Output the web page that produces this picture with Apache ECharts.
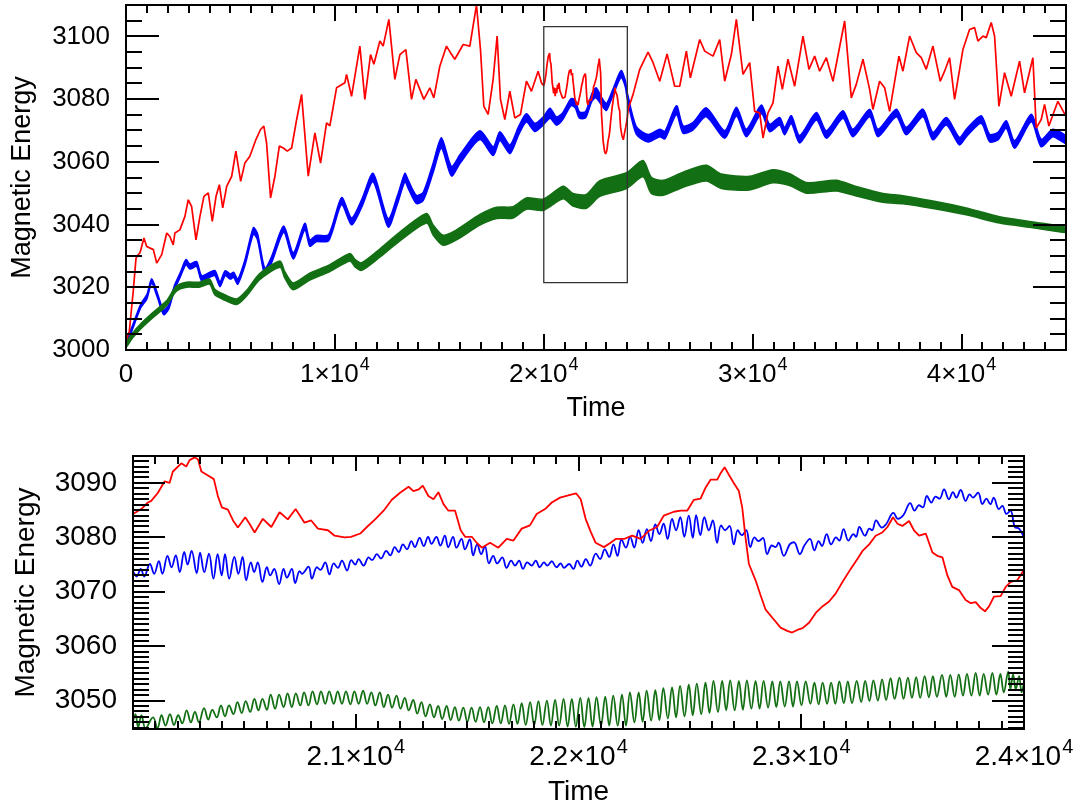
<!DOCTYPE html>
<html>
<head>
<meta charset="utf-8">
<script src="https://cdn.jsdelivr.net/npm/echarts@6/dist/echarts.min.js"></script>
<style>
html, body { margin: 0; padding: 0; background: #fff; }
#chart { width: 1085px; height: 807px; }
</style>
</head>
<body>
<div id="chart"></div>
<script>
// ---------- data ----------
// Red run, full time range (the 2.0e4..2.4e4 window comes from redZoom)
const redEarly = [[0,3003],[160,3006],[350,3019],[480,3029.3],[560,3030.2],[670,3031],[860,3035.7],[990,3033],[1310,3032],[1470,3027.7],[1710,3030.4],[1950,3037.3],[2100,3036.2],[2260,3033.5],[2340,3037.3],[2580,3038.3],[2820,3042.6],[2980,3047.9],[3140,3045.8],[3350,3035.1],[3540,3042.6],[3730,3049],[3940,3050.1],[4130,3041],[4310,3049],[4470,3052.7],[4630,3045.3],[4820,3052.2],[5060,3055.4],[5260,3063.4],[5490,3053.8],[5690,3059.6],[5930,3061.8],[6220,3067.1],[6440,3070.3],[6600,3071.4],[6730,3066],[6920,3048.5],[7130,3055.4],[7340,3065],[7530,3064.4],[7720,3063.4],[7930,3064.4],[8170,3073.5],[8405,3081.5],[8724,3055.4],[9043,3069.2],[9314,3059.6],[9601,3072.4],[9760,3071.5],[10080,3083.6],[10478,3085.2],[10558,3087.9],[10797,3080.9],[11196,3096.9],[11435,3079.9],[11706,3094.2],[11866,3091.1],[12153,3098.5],[12312,3096.9],[12584,3105.4],[12871,3086.3],[13111,3094.2],[13397,3095.8],[13669,3079.9],[13876,3086.3],[14067,3083.1],[14259,3079.9],[14546,3083.6],[14737,3080.4],[15024,3090.5],[15343,3096.9],[15534,3094.8],[15742,3092.7],[16141,3097.4],[16460,3096.9],[16779,3110],[16970,3095.8],[17130,3077.7],[17337,3075.1],[17576,3086.3],[17767,3100.1],[17927,3079.9],[18135,3073.5],[18374,3082.5],[18613,3074],[18884,3075.1],[19171,3085.7],[19410,3082.5],[19729,3088.9],[19900,3085]];
const redLate = [[24047,3077],[24275,3081.5],[24594,3089.5],[24993,3095],[25232,3091.6],[25551,3085.7],[25902,3094.4],[26268,3084.1],[26508,3084.1],[26826,3095.3],[27018,3086.8],[27465,3099],[27704,3095.3],[28103,3093.7],[28422,3099],[28661,3085.7],[28980,3094.2],[29219,3105.4],[29538,3087.9],[29857,3091.6],[30096,3076.1],[30335,3075.6],[30495,3067.6],[30734,3075.6],[30974,3078.8],[31212,3090.5],[31420,3083.1],[31691,3092.7],[32010,3084.1],[32409,3100.1],[32696,3089.5],[32967,3093.7],[33207,3088.9],[33526,3093.2],[33845,3085.7],[34403,3104.9],[34722,3080.4],[34961,3084.7],[35280,3092.7],[35599,3083.1],[35758,3076.7],[36077,3085.7],[36317,3083.6],[36556,3076.1],[37002,3093.7],[37194,3088.9],[37513,3100.1],[37832,3094.8],[38071,3093.2],[38311,3089.5],[38630,3096.9],[38981,3085.7],[39188,3088.9],[39427,3093.2],[39667,3079.9],[40065,3095.8],[40384,3102.2],[40624,3102.8],[40783,3098.5],[41022,3100.1],[41182,3099.6],[41421,3104.4],[41581,3100.1],[41788,3077.7],[42059,3088.4],[42378,3080.9],[42777,3092.1],[43016,3082],[43415,3093.2],[43575,3070.8],[43814,3073.5],[43974,3078.3],[44180,3071.4],[44611,3079.3],[45000,3074.5]];

// Blue and green runs over the full range: [time, middle of the band, half band width]
const blueBand = [[0,3002.5,0.6],[300,3007,0.6],[700,3014,0.6],[1000,3017,0.7],[1230,3022,0.7],[1500,3017.5,0.7],[1800,3012,0.7],[2050,3013.8,0.7],[2300,3019.5,0.7],[2600,3024,0.7],[2870,3028,0.8],[3060,3026.6,0.8],[3380,3027.4,0.8],[3620,3022.9,0.8],[4020,3024,0.8],[4260,3024.5,0.8],[4500,3021,0.8],[4750,3024.5,0.8],[5000,3023.4,0.8],[5150,3024,0.8],[5350,3021.8,0.8],[5700,3028,0.9],[6100,3038,1],[6300,3036,1],[6650,3025,1],[6970,3028.8,1],[7550,3038.5,1],[8010,3030,1],[8560,3039.4,1],[8800,3034.1,1],[9100,3035.5,1],[9700,3035.8,1],[10320,3047.5,1.1],[10800,3041,1.1],[11300,3047,1.2],[11830,3055,1.3],[12550,3040.5,1.3],[13000,3048,1.3],[13350,3055,1.3],[13500,3053,1.3],[13900,3048,1.3],[14230,3049,1.3],[14700,3058,1.5],[15100,3066,1.7],[15580,3057,1.5],[16000,3061,1.4],[16940,3068.5,1.4],[17580,3063.4,1.4],[17900,3068.2,1.4],[18380,3064,1.4],[18800,3070,1.3],[19170,3074,1.3],[19570,3071,1.3],[19970,3073,1.3],[20300,3075.5,1.6],[20600,3073,1.3],[20900,3074.5,1.1],[21300,3079,1.1],[21500,3078.5,1.2],[21700,3075,1],[22000,3075,1],[22300,3080.5,1.2],[22500,3082,1.6],[22800,3079,1.2],[23000,3077.5,1.1],[23300,3082,1],[23700,3088,1.1],[23900,3085,1],[24000,3081,1],[24430,3070,1.2],[25000,3067.5,1.2],[25550,3069.2,1.2],[25800,3068.5,1.2],[26350,3076.5,1.4],[26670,3070.3,1.2],[27150,3071.4,1.2],[27780,3075.8,1.4],[28660,3068.7,1.2],[29220,3076,1.4],[29700,3069.2,1.2],[30420,3076.7,1.4],[30810,3070.8,1.2],[31290,3072.9,1.2],[31530,3069.8,1.2],[31850,3073.5,1.2],[32250,3067.2,1.2],[33050,3074.5,1.2],[33530,3068.7,1.2],[34320,3075.1,1.2],[34800,3069.2,1.2],[35600,3075.6,1.2],[36000,3069.2,1.2],[36880,3075.6,1.2],[37350,3069.8,1.2],[38150,3075.6,1.2],[38630,3068.2,1.2],[39270,3072.9,1.2],[39900,3066.6,1.2],[40230,3069.2,1.2],[40940,3073.5,1.2],[41340,3067.6,1.2],[41740,3068.2,1.2],[42140,3071.9,1.2],[42540,3065.5,1.2],[43340,3074,1.2],[43810,3066,1.2],[44370,3069.2,1.2],[45000,3067,1.2]];
const greenBand = [[0,3001.5,0.7],[300,3004.5,0.8],[700,3007.5,0.8],[1300,3011.2,0.8],[1950,3015,0.8],[2400,3019.5,0.8],[2900,3020.8,0.8],[3500,3020.8,0.8],[4000,3021.8,0.8],[4250,3018.5,0.9],[4650,3017,0.9],[5300,3015.4,0.9],[5770,3018.1,0.9],[6400,3023.4,1],[7370,3027.4,1],[7600,3024,1],[8000,3020.3,1.1],[8800,3023.4,1.1],[9760,3026.1,1.1],[10720,3029.6,1.2],[10960,3027.7,1.2],[11280,3026.6,1.2],[12150,3030.9,1.3],[13110,3036.2,1.4],[14390,3042,1.5],[14700,3038.3,1.6],[15180,3035,1.6],[15820,3036.7,1.6],[16940,3041.5,1.7],[17740,3043.7,1.8],[18530,3043.9,1.8],[19170,3046.7,1.8],[19970,3046.3,1.8],[20930,3050.2,2],[21400,3047.9,2],[22040,3047.4,2.2],[22680,3051.5,2.5],[23960,3054,2.5],[24750,3057.8,2.6],[25150,3052.5,2.6],[25710,3051.7,2.4],[26670,3054.3,2.4],[27780,3056.4,2.5],[28500,3053.8,2.3],[29860,3053.2,2.2],[30970,3055.4,2.1],[31770,3054.3,1.9],[32570,3051.7,1.7],[34000,3052.4,1.7],[34960,3050.6,1.5],[36240,3048.5,1.4],[37190,3047.9,1.3],[38630,3046.3,1.2],[40220,3044.2,1.1],[41820,3041.5,1],[43420,3039.9,0.9],[45000,3038.3,0.8]];

// Detailed window 2.0e4 .. 2.4e4
const redZoom = [[20000,3084.3],[20037,3085.2],[20067,3086.4],[20082,3086.7],[20112,3088.2],[20142,3090.3],[20164,3090],[20179,3092.1],[20217,3093.6],[20239,3093],[20254,3094.2],[20277,3094.7],[20292,3094.3],[20307,3092.1],[20344,3091.2],[20363,3090.7],[20381,3087.6],[20399,3085.5],[20426,3085.1],[20449,3083.1],[20471,3081.8],[20504,3083.7],[20523,3082.5],[20546,3080.9],[20583,3083.4],[20621,3081.9],[20658,3084.6],[20695,3083.3],[20730,3085.2],[20770,3082.7],[20800,3083.1],[20830,3081.6],[20875,3081.3],[20905,3080.3],[20950,3080],[20979,3080.1],[21020,3080.7],[21050,3081.9],[21087,3083.3],[21125,3084.9],[21162,3086.9],[21199,3088.2],[21237,3089.3],[21259,3088.5],[21282,3088.8],[21301,3089.5],[21326,3087.6],[21349,3087],[21371,3088.3],[21394,3086.1],[21416,3084.9],[21446,3084.9],[21471,3081.3],[21491,3080.1],[21521,3080.1],[21543,3079],[21566,3078.1],[21603,3079],[21640,3078.1],[21678,3079.7],[21708,3079.4],[21745,3081.6],[21782,3082.2],[21812,3084.3],[21850,3085.2],[21880,3086.4],[21917,3087.3],[21954,3087.7],[21989,3088.1],[22010,3087],[22032,3083.4],[22055,3081],[22077,3079],[22114,3078.2],[22144,3079],[22167,3079.7],[22204,3079.7],[22241,3080.3],[22279,3079.7],[22316,3081.2],[22353,3081.9],[22383,3084],[22428,3084.7],[22458,3084.9],[22488,3084.9],[22518,3086.9],[22548,3087.1],[22570,3089.1],[22593,3090.6],[22623,3090.6],[22638,3091.8],[22656,3092.9],[22675,3091.5],[22697,3090],[22720,3088.5],[22735,3085.5],[22750,3079.9],[22765,3075.1],[22795,3072.1],[22817,3069.4],[22840,3066.7],[22877,3064.9],[22907,3063.4],[22937,3062.8],[22959,3062.5],[22989,3063.1],[23006,3063.3],[23035,3064.3],[23065,3066.1],[23095,3067.3],[23125,3068.2],[23155,3069.7],[23185,3071.8],[23222,3074.2],[23252,3076],[23275,3077.5],[23305,3078.7],[23334,3080.3],[23364,3080.9],[23387,3081.9],[23412,3083.7],[23432,3082.5],[23454,3082.1],[23484,3083],[23506,3081.3],[23529,3080.3],[23559,3080.7],[23589,3077.2],[23611,3076.6],[23634,3076.3],[23656,3073],[23678,3070.9],[23708,3070.3],[23738,3068.5],[23761,3067.9],[23783,3068.1],[23806,3067],[23825,3066.4],[23843,3067.3],[23865,3069.1],[23895,3069.2],[23918,3070.9],[23940,3071.8],[23970,3072.1],[23998,3073.9]];
const blueZoom = [[20000,3073.8],[20005,3073.4],[20016,3072.8],[20035,3074.2],[20050,3072.8],[20076,3075.1],[20095,3073.3],[20116,3075.6],[20132,3073.3],[20155,3076.6],[20173,3074.5],[20192,3076.7],[20210,3073.6],[20230,3077.3],[20245,3075],[20263,3077.5],[20286,3073.4],[20301,3077.2],[20320,3073.6],[20341,3077],[20361,3072.4],[20380,3076.9],[20398,3073],[20413,3076.9],[20432,3072.4],[20455,3076.4],[20473,3073.3],[20492,3076.4],[20508,3072.1],[20529,3075.4],[20544,3073.6],[20560,3075.4],[20581,3071.8],[20601,3074.5],[20616,3073],[20634,3074.2],[20656,3071.4],[20676,3074.2],[20691,3072.6],[20713,3074.2],[20728,3071.6],[20748,3073.8],[20758,3073.3],[20788,3074.6],[20803,3072.4],[20826,3074.5],[20841,3074],[20863,3075.4],[20882,3073.2],[20901,3075.2],[20920,3074.4],[20938,3075.7],[20961,3073.9],[20980,3075.8],[20998,3075],[21013,3076],[21035,3074.8],[21058,3076.3],[21073,3075.8],[21095,3076.9],[21113,3076.1],[21137,3077.5],[21155,3076.7],[21175,3078.2],[21193,3077.3],[21212,3078.7],[21230,3077.8],[21250,3079.3],[21265,3078.2],[21287,3079.9],[21305,3078.4],[21325,3080.1],[21340,3078.8],[21362,3080.1],[21380,3078.5],[21400,3080.3],[21415,3078.2],[21437,3080.1],[21452,3078.1],[21475,3079.7],[21490,3077.8],[21512,3079.6],[21527,3076.7],[21545,3078.7],[21563,3076.9],[21580,3078.4],[21598,3075.2],[21617,3076.6],[21635,3075.2],[21658,3076.3],[21677,3074.4],[21698,3075.7],[21715,3074.8],[21733,3075.7],[21751,3074.2],[21770,3075.4],[21790,3074.8],[21808,3075.7],[21826,3074.5],[21845,3075.4],[21860,3074.8],[21880,3075.6],[21901,3074.5],[21920,3075.2],[21935,3074.4],[21958,3075.1],[21977,3074.2],[21995,3075.7],[22013,3074.6],[22033,3076],[22052,3074.8],[22078,3077],[22097,3076],[22118,3077.8],[22138,3076.4],[22157,3078.7],[22175,3076.6],[22193,3079.6],[22213,3078.1],[22232,3080.1],[22250,3078.1],[22270,3081.3],[22288,3079],[22307,3081.5],[22325,3079.3],[22345,3082.4],[22363,3080.6],[22382,3082.5],[22400,3079.7],[22420,3083.4],[22438,3081.3],[22457,3083.7],[22475,3080.1],[22495,3084],[22513,3079.9],[22528,3084.1],[22547,3080.4],[22565,3083.7],[22585,3081.3],[22603,3083.1],[22622,3079],[22640,3082.2],[22658,3081.3],[22678,3082.1],[22697,3078.7],[22715,3081.3],[22733,3080.4],[22753,3081.3],[22771,3078.2],[22790,3080],[22808,3079.3],[22828,3079.9],[22847,3076.9],[22868,3078.5],[22885,3078.2],[22898,3079],[22922,3076.6],[22948,3078.7],[22967,3079.1],[22994,3076.9],[23014,3078.5],[23039,3079.7],[23059,3077.6],[23078,3079.3],[23093,3078.4],[23114,3080.6],[23134,3078.7],[23156,3080],[23171,3079.4],[23190,3081.5],[23212,3079.4],[23234,3080.6],[23246,3080.1],[23261,3081.9],[23286,3080.3],[23306,3081.6],[23318,3081.3],[23336,3083.1],[23362,3081.8],[23381,3082.4],[23414,3084.5],[23434,3083.4],[23459,3084.1],[23489,3086.3],[23509,3084.9],[23528,3085.9],[23546,3085.5],[23564,3087.6],[23584,3086.4],[23603,3087.5],[23621,3087.1],[23641,3088.8],[23663,3087],[23681,3088.3],[23696,3087.3],[23716,3088.7],[23738,3086.7],[23756,3087.9],[23771,3087.3],[23794,3088.2],[23813,3086.1],[23831,3087.1],[23849,3086.1],[23864,3087.3],[23887,3085.2],[23903,3085.8],[23921,3084.3],[23939,3084.9],[23959,3081.9],[23978,3081.6],[23999,3080.1]];
const greenZoom = [[20000,3046.1],[20011,3047.5],[20023,3045.1],[20038,3047.3],[20056,3044.9],[20090,3046.9],[20110,3044.9],[20128,3047.3],[20146,3045.4],[20166,3047.5],[20184,3045.5],[20203,3047.3],[20221,3045.8],[20241,3048.2],[20260,3046],[20278,3047.9],[20296,3046],[20319,3048.6],[20338,3046.5],[20356,3048.3],[20376,3046.9],[20395,3049.1],[20413,3047.1],[20431,3049.1],[20451,3047.5],[20469,3049.7],[20488,3047.7],[20506,3049.9],[20526,3047.9],[20545,3050.3],[20563,3048.2],[20581,3050.3],[20601,3048.3],[20618,3051.1],[20638,3048.5],[20656,3051.1],[20676,3048.8],[20694,3051.3],[20713,3048.8],[20731,3051.3],[20751,3049.1],[20768,3051.5],[20788,3049.1],[20806,3051.7],[20826,3049.3],[20844,3051.7],[20863,3049.4],[20881,3051.7],[20901,3049.4],[20919,3051.7],[20938,3049.4],[20956,3051.7],[20976,3049.3],[20994,3051.7],[21013,3049.4],[21033,3051.8],[21051,3049.4],[21070,3051.5],[21088,3049.1],[21108,3051.5],[21126,3048.8],[21145,3051.1],[21163,3048.7],[21183,3050.9],[21201,3048.5],[21220,3050.5],[21238,3048.2],[21258,3050.1],[21276,3047.6],[21295,3049.7],[21313,3047.1],[21333,3049.3],[21351,3046.9],[21370,3049],[21388,3046.6],[21408,3049],[21426,3046.4],[21445,3048.8],[21463,3046.3],[21483,3048.7],[21501,3046.1],[21520,3048.7],[21538,3046.1],[21558,3048.8],[21576,3046],[21595,3048.8],[21613,3045.8],[21633,3049],[21651,3045.8],[21670,3049.1],[21688,3045.7],[21708,3049.3],[21726,3045.7],[21745,3049.5],[21763,3045.5],[21783,3049.7],[21801,3045.5],[21820,3049.9],[21838,3045.5],[21858,3050],[21876,3045.4],[21895,3050.1],[21913,3045.4],[21933,3050.3],[21951,3045.2],[21970,3050.3],[21988,3045.2],[22008,3050.5],[22026,3045.1],[22045,3050.5],[22063,3045.2],[22081,3050.6],[22101,3045.4],[22120,3050.7],[22138,3045.4],[22156,3050.9],[22176,3045.4],[22195,3051.1],[22213,3045.4],[22231,3051.5],[22251,3046],[22270,3051.5],[22288,3046.1],[22306,3051.8],[22326,3046.3],[22345,3051.9],[22363,3046.4],[22381,3052.3],[22401,3046.7],[22420,3052.4],[22438,3046.9],[22456,3052.7],[22476,3047.1],[22495,3052.9],[22513,3047.3],[22531,3053.1],[22551,3047.5],[22570,3053.3],[22588,3047.7],[22606,3053.6],[22626,3047.9],[22645,3053.6],[22663,3048.2],[22681,3053.7],[22701,3048.2],[22720,3053.6],[22738,3048.3],[22756,3053.7],[22776,3048.5],[22795,3053.6],[22813,3048.5],[22831,3053.6],[22851,3048.7],[22870,3053.5],[22888,3048.8],[22906,3053.5],[22926,3048.9],[22945,3053.5],[22963,3048.9],[22981,3053.5],[23001,3049.1],[23020,3053.5],[23041,3049.4],[23059,3053.3],[23078,3049.3],[23096,3053.3],[23116,3049.4],[23134,3053.3],[23153,3049.4],[23171,3053.5],[23191,3049.5],[23209,3053.5],[23228,3049.5],[23249,3053.6],[23269,3049.7],[23287,3053.6],[23306,3049.9],[23324,3053.7],[23344,3050],[23363,3053.9],[23381,3050.1],[23401,3054.1],[23419,3050.3],[23441,3054.2],[23459,3050.3],[23479,3054.2],[23497,3050.5],[23516,3054.3],[23534,3050.5],[23554,3054.5],[23573,3050.6],[23591,3054.5],[23609,3050.7],[23632,3054.7],[23651,3050.7],[23669,3054.7],[23689,3050.7],[23707,3054.8],[23726,3050.9],[23744,3054.9],[23764,3050.9],[23783,3055.1],[23801,3050.9],[23819,3054.9],[23839,3051.1],[23858,3055.1],[23876,3051.1],[23894,3054.9],[23909,3051.5],[23929,3055.3],[23939,3052.1],[23951,3054.8],[23963,3052.1],[23978,3054.5],[23989,3051.5],[24000,3053.3]];

// Outline of the enlarged window in the upper panel: [t0, t1, e0, e1]
const zoomBox = [20000, 24000, 3021.5, 3103.1];

// Axis ranges and ticks
const topTimeRange = [0, 45000];
const topEnergyRange = [3000, 3110];
const zoomTimeRange = [20000, 24000];
const zoomEnergyRange = [3044.75, 3094.95];
const topTimeTicks = [0, 10000, 20000, 30000, 40000];
const topEnergyTicks = [3000, 3020, 3040, 3060, 3080, 3100];
const zoomTimeTicks = [20000, 21000, 22000, 23000, 24000];
const zoomTimeLabels = [21000, 22000, 23000, 24000];
const zoomEnergyTicks = [3050, 3060, 3070, 3080, 3090];

const RED = '#ff0000', BLUE = '#0000ff', GREEN = '#136f13';
const FONT = 'Liberation Sans';

function steps(a, b, s) {
  const out = [];
  for (let v = a; v <= b + 1e-9; v += s) out.push(+v.toFixed(6));
  return out;
}

function timeLabel(v) {
  if (v === 0) return '{m|0}';
  const m = +(v / 1e4).toFixed(1);
  return '{m|' + m + '×10}{s|4}';
}

function energyLabel(v) {
  return String(Math.round(v));
}

// Label-only axes; the boxed frame and inward ticks are drawn by frameSeries
function labelAxes(g, cfg) {
  const x = {
    type: 'value', gridIndex: g, min: cfg.xr[0], max: cfg.xr[1], position: 'bottom',
    splitLine: { show: false }, axisLine: { show: false }, axisTick: { show: false },
    axisLabel: { show: true, customValues: cfg.xLabels, margin: cfg.xMargin, formatter: timeLabel,
      rich: {
        m: { fontFamily: FONT, fontSize: cfg.fs, lineHeight: cfg.fs + 14, color: '#000' },
        s: { fontFamily: FONT, fontSize: cfg.sfs, lineHeight: cfg.sfs, color: '#000', padding: [0, 0, cfg.fs + 14 - cfg.sfs - 2, 1] }
      } },
    name: 'Time', nameLocation: 'middle', nameGap: cfg.xNameGap,
    nameTextStyle: { fontFamily: FONT, fontSize: cfg.nfs, color: '#000' }
  };
  const y = {
    type: 'value', gridIndex: g, min: cfg.yr[0], max: cfg.yr[1], position: 'left',
    splitLine: { show: false }, axisLine: { show: false }, axisTick: { show: false },
    axisLabel: { show: true, customValues: cfg.yLabels, margin: cfg.yMargin, formatter: energyLabel,
      fontFamily: FONT, fontSize: cfg.fs, color: '#000' },
    name: 'Magnetic Energy', nameLocation: 'middle', nameGap: cfg.yNameGap, nameRotate: 90,
    nameTextStyle: { fontFamily: FONT, fontSize: cfg.nfs, color: '#000' }
  };
  return { x, y };
}

const topAxes = labelAxes(0, {
  xr: topTimeRange, yr: topEnergyRange, xLabels: topTimeTicks, yLabels: topEnergyTicks,
  fs: 26, sfs: 18, nfs: 27, xMargin: 5, yMargin: 16, xNameGap: 42, yNameGap: 90
});
const zoomAxes = labelAxes(1, {
  xr: zoomTimeRange, yr: zoomEnergyRange, xLabels: zoomTimeLabels, yLabels: zoomEnergyTicks,
  fs: 28, sfs: 20, nfs: 28, xMargin: 7, yMargin: 16, xNameGap: 43, yNameGap: 93
});

// Box around a panel with major/minor ticks pointing inward on all four sides
function frameSeries(axisIndex, spec) {
  return {
    type: 'custom', xAxisIndex: axisIndex, yAxisIndex: axisIndex, silent: true, clip: false, z: 6,
    data: [[spec.xr[0], spec.yr[0]]],
    renderItem: function (params, api) {
      const cs = params.coordSys;
      const L = Math.round(cs.x), T = Math.round(cs.y);
      const R = Math.round(cs.x + cs.width), B = Math.round(cs.y + cs.height);
      const kids = [];
      const st = { stroke: '#000', lineWidth: 2, fill: null };
      function seg(x1, y1, x2, y2) {
        kids.push({ type: 'line', shape: { x1: x1, y1: y1, x2: x2, y2: y2 }, style: st });
      }
      function xt(v, len) {
        const x = Math.round(api.coord([v, spec.yr[0]])[0]);
        seg(x, B, x, B - len); seg(x, T, x, T + len);
      }
      function yt(v, len) {
        const y = Math.round(api.coord([spec.xr[0], v])[1]);
        seg(L, y, L + len, y); seg(R, y, R - len, y);
      }
      spec.xMinor.forEach(function (v) { xt(v, spec.xLen[1]); });
      spec.xMajor.forEach(function (v) { xt(v, spec.xLen[0]); });
      spec.yMinor.forEach(function (v) { yt(v, spec.yLen[1]); });
      spec.yMajor.forEach(function (v) { yt(v, spec.yLen[0]); });
      kids.push({ type: 'rect', shape: { x: L, y: T, width: R - L, height: B - T },
        style: { fill: null, stroke: '#000', lineWidth: 2 } });
      return { type: 'group', children: kids };
    }
  };
}

// Filled band between (middle - half) and (middle + half), with rounded edges
function bandSeries(band, color) {
  return {
    type: 'custom', xAxisIndex: 0, yAxisIndex: 0, silent: true, clip: true, z: 2,
    data: [[band[0][0], band[0][1]]],
    renderItem: function (params, api) {
      const upper = band.map(function (d) { return api.coord([d[0], d[1] + d[2]]); });
      const lower = band.slice().reverse().map(function (d) { return api.coord([d[0], d[1] - d[2]]); });
      return { type: 'polygon', shape: { points: upper.concat(lower), smooth: 0.25 },
        style: { fill: color, stroke: color, lineWidth: 1.5 } };
    }
  };
}

function lineSeries(data, color, width, idx, smooth) {
  return { type: 'line', data: data, xAxisIndex: idx, yAxisIndex: idx, showSymbol: false, symbol: 'none',
    silent: true, smooth: smooth || false, lineStyle: { color: color, width: width }, z: 3 };
}

const redTop = redEarly.concat(redZoom, redLate);

const option = {
  animation: false,
  backgroundColor: '#fff',
  grid: [
    { left: 126, top: 5, width: 940, height: 345 },
    { left: 133, top: 456, width: 891, height: 280 }
  ],
  xAxis: [topAxes.x, zoomAxes.x],
  yAxis: [topAxes.y, zoomAxes.y],
  series: [
    bandSeries(blueBand, BLUE),
    bandSeries(greenBand, GREEN),
    lineSeries(redTop, RED, 1.7, 0),
    {
      type: 'custom', xAxisIndex: 0, yAxisIndex: 0, silent: true, z: 4,
      data: [[zoomBox[0], zoomBox[2]]],
      renderItem: function (params, api) {
        const p0 = api.coord([zoomBox[0], zoomBox[3]]);
        const p1 = api.coord([zoomBox[1], zoomBox[2]]);
        return { type: 'rect', shape: { x: p0[0], y: p0[1], width: p1[0] - p0[0], height: p1[1] - p0[1] },
          style: { fill: null, stroke: '#333', lineWidth: 1.3 } };
      }
    },
    lineSeries(blueZoom, BLUE, 1.8, 1, 0.4),
    lineSeries(greenZoom, GREEN, 1.8, 1, 0.4),
    lineSeries(redZoom, RED, 1.8, 1, false),
    frameSeries(0, {
      xr: topTimeRange, yr: topEnergyRange,
      xMajor: topTimeTicks, xMinor: steps(1000, 44000, 1000),
      yMajor: topEnergyTicks, yMinor: steps(3005, 3105, 5),
      xLen: [16, 8], yLen: [33, 16]
    }),
    frameSeries(1, {
      xr: zoomTimeRange, yr: zoomEnergyRange,
      xMajor: zoomTimeTicks, xMinor: steps(20100, 23900, 100),
      yMajor: zoomEnergyTicks, yMinor: steps(3045, 3094, 1),
      xLen: [15, 8], yLen: [32, 16]
    })
  ]
};

const chart = echarts.init(document.getElementById('chart'), null, { renderer: 'canvas' });
chart.setOption(option);
</script>
</body>
</html>
